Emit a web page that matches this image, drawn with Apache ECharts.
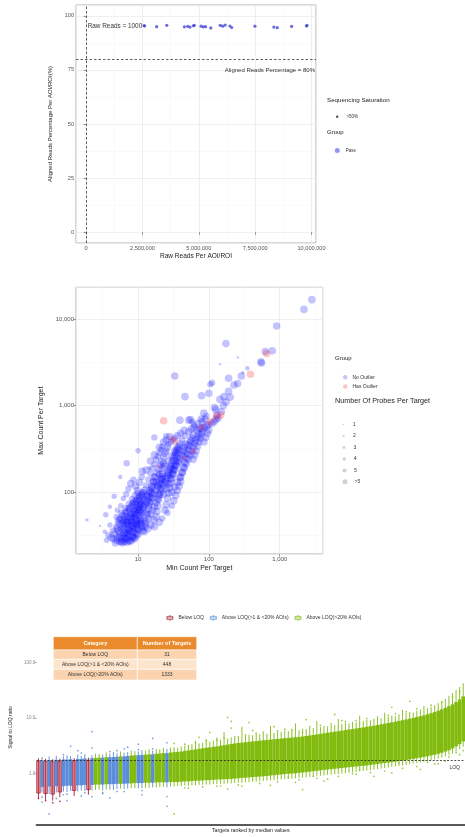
<!DOCTYPE html>
<html>
<head>
<meta charset="utf-8">
<script src="https://cdn.jsdelivr.net/npm/echarts@6/dist/echarts.min.js"></script>
<style>
  html, body { margin: 0; padding: 0; background: #ffffff; }
  #c { width: 465px; height: 837px; }
</style>
</head>
<body>
<div id="c"></div>
<script>
const FONT = '"Liberation Sans", Arial, Helvetica, sans-serif';

// ---- Panel 1: sequencing QC per AOI/ROI ----
const rawReads = [2570000, 2600000, 3130000, 3580000, 4360000, 4510000, 4610000, 4760000, 4800000,
  5100000, 5200000, 5300000, 5530000, 5950000, 6060000, 6170000, 6380000, 6460000, 7490000,
  8330000, 8480000, 9120000, 9780000, 9800000];
const alignedPct = [95.5, 95.3, 95.0, 95.6, 94.9, 95.1, 94.8, 95.4, 95.6, 95.2, 94.9, 95.0, 94.4,
  95.6, 95.2, 95.7, 95.3, 94.6, 95.2, 94.8, 94.5, 95.1, 95.3, 95.6];
const rawReadsCutoff = 1000;
const alignedCutoff = 80;

// ---- Panel 2: min vs max probe count per target ([min, max, probes]) ----
const noOutlierPoints = [
  [4.2,30,6],[4.6,33,6],[5.0,28,6],[5.3,36,6],[5.6,31,6],[5.9,27,6],[6.1,40,6],[6.4,34,6],[6.7,29,6],[6.9,45,6],
  [7.2,38,6],[7.5,32,6],[7.7,27,6],[8.0,50,6],[8.2,42,6],[8.5,35,6],[8.8,30,6],[9.1,56,6],[9.4,46,6],[9.7,38,6],
  [10.0,33,6],[10.4,62,6],[10.8,50,6],[11.2,41,6],[11.6,36,6],[12.0,70,6],
  [4.4,36,5],[4.9,40,5],[5.2,45,5],[5.5,50,5],[5.8,38,5],[6.0,55,5],[6.3,47,5],[6.6,60,5],[6.9,52,5],[7.1,42,5],
  [7.4,66,5],[7.8,57,5],[8.1,46,5],[8.4,75,5],[8.7,62,5],[9.0,52,5],[9.3,82,5],[9.6,68,5],[9.9,44,5],[10.3,90,5],
  [10.7,74,5],[11.1,58,5],[11.5,100,5],[11.9,80,5],
  [3.8,32,5],[3.6,28,4],[4.0,42,4],[5.1,62,4],[5.7,70,4],[6.2,85,4],[6.8,95,5],[7.3,110,5],[7.9,126,6],[8.6,140,5],
  [9.2,118,6],[9.8,105,6],[10.5,130,6],[11.3,150,5],[6.5,30,6],[7.0,34,6],[7.6,37,6],[8.3,39,6],[8.9,41,6],[9.5,43,6],
  [10.2,46,6],[10.9,48,6],[6.0,26,6],[7.0,26.5,6],[8.0,28,6],[9.0,29,6],[5.4,48,6],[6.1,44,6],[6.8,48,6],[7.5,52,6],
  [8.2,56,6],[8.9,60,6],[9.6,64,6],[10.3,68,6],[11.0,72,6],[5.0,52,5],[5.8,58,5],[6.6,66,5],[7.4,74,5],[8.2,84,5],
  [9.0,92,5],[9.8,98,5],
  [5.2,30,6],[5.5,34,6],[5.8,29,6],[6.2,32,6],[6.5,37,6],[6.8,33,6],[7.1,30,6],[7.4,36,6],[7.7,41,6],[8.0,35,6],
  [8.3,31,6],[8.6,44,6],[8.9,38,6],[9.2,34,6],[9.5,49,6],[9.8,41,6],[10.1,37,6],[10.5,54,6],[10.9,44,6],[11.3,39,6],
  [11.7,59,6],[12.1,48,6],[12.5,43,6],
  [6.0,48,6],[6.4,52,6],[6.8,56,6],[7.2,60,6],[7.6,64,6],[8.0,68,6],[8.4,72,6],[8.8,77,6],[9.2,72,6],[9.6,78,6],
  [10.0,84,6],[10.4,80,6],[10.8,88,6],[11.2,94,6],[11.6,90,6],[12.0,98,6],[12.4,106,6],
  [7.0,44,6],[7.8,47,6],[8.6,50,6],[9.4,55,6],[10.2,58,6],[11.0,63,6],[11.8,67,6],[12.6,73,6],[13.4,78,6],[14.2,84,6],
  [6.3,41,5],[7.3,45,5],[8.3,52,5],[9.3,60,5],[10.3,66,5],[11.3,76,5],[12.3,84,5],[13.3,92,5],[14.3,100,5],[15.3,110,5],
  [4.8,26,6],[5.5,27,6],[6.4,27,6],[7.3,28,6],[8.4,30,6],[9.6,32,6],[4.5,29,6],[5.1,38,6],[5.6,43,6],
  [1.9,48,2],[2.9,41,1],[3.4,35,3],[3.5,55,4],[4.0,68,3],[6.9,216,5],[5.6,150,3],[4.6,90,4],
  [12.5,40,6],[13,46,6],[13.5,55,6],[14,64,6],[14.5,75,6],[15,88,6],[15.5,100,6],[16,115,6],[16.5,130,6],[17,150,6],
  [13,120,5],[14,140,5],[15,165,5],[16,190,5],[17,210,5],[12.2,35,6],[13.8,38,6],[15.2,42,6],[16.8,48,6],[18,52,6],
  [18.5,60,6],[19,70,6],[19.5,82,6],[20,95,6],[20.5,110,6],[21,125,6],[21.5,145,6],[22,165,6],[22.5,190,6],[23,215,6],
  [18,240,5],[19,260,5],[20,285,5],[21,310,5],[22,335,5],[23,255,6],[24,280,6],[25,300,6],[26,330,6],[24,62,6],
  [25,72,6],[26,85,6],[27,98,6],[28,112,6],[29,128,6],[30,146,6],[31,165,6],[32,185,6],[33,205,6],[34,230,6],
  [35,255,6],[36,280,6],[37,310,6],[38,340,6],[27,360,5],[29,380,5],[31,400,5],[33,420,5],[30,70,5],[32,80,6],
  [34,92,6],[36,105,6],[38,118,6],[40,132,6],[26,58,5],[22,50,5],[20,45,6],[17,40,6],[25,400,6],[28,440,6],
  [23,380,6],[20,330,6],[17,270,6],[15,230,6],[13,180,6],[11.5,175,6],[18,130,6],[20,160,6],[24,200,6],[27,230,6],
  [30,260,6],[33,300,6],[36,330,6],[39,360,6],[16,95,6],[19,120,6],[22,140,6],[26,165,6],[29,190,6],[25,130,6],
  [28,155,6],[31,180,6],[34,210,6],
  [13,58,6],[14,70,6],[15,78,6],[16,86,6],[17,96,6],[18,106,6],[19,116,6],[20,128,6],[21,140,6],[22,152,6],
  [13.5,90,6],[14.5,104,6],[15.5,118,6],[16.5,134,6],[17.5,150,6],[18.5,168,6],[19.5,186,6],[20.5,206,6],[21.5,226,6],
  [14,50,6],[15,56,6],[16,62,6],[17,68,6],[18,76,6],[19,84,6],[20,92,6],[21,100,6],[22,110,6],[23,120,6],
  [24,132,6],[25,144,6],[26,156,6],[27,170,6],[28,184,6],[29,200,6],[30,216,6],[31,232,6],[32,250,6],[33,268,6],
  [34,288,6],[35,308,6],
  [23,95,6],[25,110,6],[27,125,6],[29,142,6],[31,160,6],[33,180,6],[35,200,6],[37,222,6],[39,246,6],[41,272,6],
  [43,300,6],[45,330,6],[47,360,6],
  [30,100,6],[33,115,6],[36,130,6],[39,148,6],[42,168,6],[45,190,6],[48,214,6],[51,240,6],[54,268,6],[57,298,6],
  [60,330,6],[63,365,6],[66,400,6],[69,435,6],[72,470,6],
  [40,150,6],[42,170,6],[44,195,6],[46,220,6],[48,250,6],[50,280,6],[52,310,6],[54,345,6],[56,380,6],[58,420,6],
  [60,460,6],[45,300,6],[50,350,6],[55,400,6],[60,240,6],[63,270,6],[66,300,6],[69,340,6],[72,380,6],[75,420,6],
  [78,460,6],[81,500,6],[42,400,5],[46,450,5],[52,500,6],[57,540,6],[62,560,6],[68,520,6],[74,550,6],[80,540,6],
  [86,560,6],[92,580,6],[98,600,6],[85,380,6],[90,430,6],[95,480,6],[100,520,6],[110,620,6],[118,650,6],[126,690,6],
  [135,720,6],[62,600,5],[58,650,5],[55,690,6],[45,520,6],[40,480,6],[36,450,6],[38,230,6],[44,260,6],[70,620,6],
  [80,650,6],[88,700,6],
  [10,302,4],[14.5,190,3],[17,430,5],[25,445,5],[39,680,6],[52,680,6],[33,2200,6],[46,1270,6],[79,1300,6],[100,1390,6],
  [105,1760,5],[111,1840,5],[143,1180,6],[163,1270,6],[190,1460,6],[190,2070,6],[226,1730,6],[255,1800,6],[287,2200,6],
  [174,5200,6],[257,3600,1],[144,3010,1],[544,3200,6],[554,3100,6],[626,4200,6],[785,4300,6],[905,8300,6],
  [2200,12900,6],[2850,16700,6],[125,900,6],[130,780,6],[150,850,6],[160,1000,6],[175,1100,6],[200,1250,6],
  [85,820,6],[92,760,5],[120,950,6],[78,700,6],[300,2400,2],[350,2700,3]
];
const hasOutlierPoints = [
  [23,670,6],[33,385,5],[30,420,4],[79,565,5],[104,650,6],[128,750,6],[147,780,6],[386,2300,6],[655,4000,6],
  [60,300,4],[45,250,3],[20,200,2]
];
const probeLevels = ['1', '2', '3', '4', '5', '>5'];
const probeSymbolSize = [0, 2.4, 3.4, 4.4, 5.4, 6.4, 7.6];

// ---- Panel 3: signal-to-LOQ ratio per target, ranked by median ----
const groupNames = ['Below LOQ', 'Above LOQ(>1 & <20% AOIs)', 'Above LOQ(>20% AOIs)'];
const groupTargetCounts = [31, 448, 1333];
const loqRatio = 1.78;
// 0 = below LOQ, 1 = above LOQ in <20% AOIs, 2 = above LOQ in >20% AOIs
const targetGroup = [
  0,1,0,1,0,1,0,1,1,1, 0,1,1,1,0,1,2,2,1,2, 1,1,1,2,1,1,2,2,1,1, 2,2,1,2,2,2,1,2,2,2,
  2,2,2,2,2,2,2,2,2,2, 2,2,2,2,2,2,2,2,2,2, 2,2,2,2,2,2,2,2,2,2, 2,2,2,2,2,2,2,2,2,2,
  2,2,2,2,2,2,2,2,2,2, 2,2,2,2,2,2,2,2,2,2, 2,2,2,2,2,2,2,2,2,2, 2,2,2,2,2,2,2,2,2,2
];
// [lower whisker, Q1, median, Q3, upper whisker]
const targetStats = [
  [0.36,0.45,0.85,1.7,1.9],[0.46,0.58,0.95,1.72,2.0],[0.34,0.44,0.88,1.68,1.85],[0.47,0.59,0.96,1.76,2.05],
  [0.33,0.43,0.9,1.65,1.82],[0.46,0.6,0.97,1.78,2.1],[0.38,0.47,0.92,1.7,1.88],[0.48,0.6,0.98,1.8,2.05],
  [0.47,0.61,0.99,1.79,2.15],[0.49,0.61,1.0,1.82,2.08],[0.4,0.5,0.95,1.72,1.9],[0.48,0.62,1.01,1.84,2.2],
  [0.5,0.62,1.02,1.85,2.1],[0.49,0.63,1.03,1.88,2.25],[0.42,0.52,0.98,1.75,1.95],[0.5,0.63,1.04,1.9,2.15],
  [0.51,0.64,1.05,1.92,2.3],[0.52,0.64,1.06,1.95,2.25],[0.5,0.64,1.06,1.94,2.2],[0.52,0.65,1.07,1.98,2.4],
  [0.52,0.65,1.08,1.98,2.3],[0.51,0.65,1.09,2.0,2.45],[0.53,0.66,1.1,2.02,2.35],[0.54,0.66,1.11,2.05,2.5],
  [0.53,0.66,1.12,2.05,2.4],[0.54,0.67,1.13,2.08,2.45],[0.55,0.67,1.14,2.12,2.6],[0.55,0.68,1.15,2.14,2.55],
  [0.55,0.68,1.16,2.15,2.5],[0.55,0.68,1.17,2.18,2.65],[0.56,0.69,1.18,2.2,2.6],[0.56,0.69,1.19,2.22,2.75],
  [0.57,0.69,1.2,2.24,2.6],[0.57,0.7,1.22,2.28,2.8],[0.58,0.7,1.23,2.3,2.75],[0.58,0.7,1.25,2.34,2.9],
  [0.57,0.7,1.26,2.34,2.8],[0.59,0.71,1.28,2.4,2.95],[0.59,0.71,1.3,2.44,3.0],[0.6,0.71,1.31,2.47,2.95],
  [0.6,0.72,1.33,2.5,3.1],[0.61,0.73,1.35,2.56,3.2],[0.61,0.73,1.37,2.62,3.3],[0.62,0.74,1.4,2.68,3.4],
  [0.62,0.75,1.42,2.74,3.9],[0.63,0.75,1.45,2.8,3.5],[0.63,0.76,1.47,2.86,3.6],[0.64,0.77,1.5,2.92,4.2],
  [0.64,0.77,1.53,2.98,3.8],[0.65,0.78,1.56,3.04,3.9],[0.65,0.79,1.59,3.1,4.5],[0.66,0.79,1.62,3.18,4.1],
  [0.66,0.8,1.65,3.26,5.6],[0.67,0.8,1.68,3.34,4.3],[0.67,0.81,1.72,3.42,4.5],[0.68,0.82,1.75,3.5,4.4],
  [0.69,0.83,1.78,3.56,4.8],[0.69,0.84,1.81,3.62,7.0],[0.7,0.85,1.84,3.68,4.8],[0.71,0.86,1.87,3.74,5.0],
  [0.72,0.87,1.9,3.8,4.9],[0.72,0.88,1.93,3.86,5.2],[0.73,0.89,1.96,3.92,5.1],[0.74,0.9,1.99,3.98,5.4],
  [0.75,0.91,2.02,4.04,5.2],[0.76,0.93,2.05,4.1,7.2],[0.77,0.94,2.08,4.16,5.4],[0.78,0.96,2.11,4.22,5.7],
  [0.79,0.97,2.14,4.28,5.6],[0.8,0.99,2.17,4.34,5.9],[0.81,1.0,2.2,4.4,5.8],[0.82,1.01,2.23,4.46,6.1],
  [0.83,1.02,2.26,4.52,8.0],[0.84,1.04,2.3,4.58,6.1],[0.85,1.05,2.34,4.66,6.4],[0.86,1.07,2.38,4.76,6.3],
  [0.88,1.09,2.42,4.86,6.7],[0.89,1.11,2.46,4.96,6.6],[0.9,1.13,2.5,5.08,8.8],[0.92,1.15,2.55,5.2,6.9],
  [0.93,1.17,2.6,5.32,7.2],[0.95,1.19,2.65,5.44,7.1],[0.96,1.21,2.7,5.56,7.6],[0.98,1.23,2.75,5.68,7.4],
  [0.99,1.25,2.8,5.8,9.6],[1.01,1.27,2.86,5.94,7.8],[1.02,1.29,2.92,6.08,8.2],[1.04,1.31,2.98,6.22,8.0],
  [1.06,1.33,3.04,6.36,8.5],[1.08,1.35,3.1,6.5,8.4],[1.1,1.37,3.17,6.64,11.0],[1.12,1.39,3.24,6.8,8.9],
  [1.14,1.41,3.31,6.96,9.3],[1.16,1.44,3.38,7.12,9.1],[1.18,1.47,3.46,7.3,9.7],[1.21,1.5,3.54,7.5,10.0],
  [1.24,1.53,3.62,7.7,9.9],[1.26,1.56,3.71,7.92,12.5],[1.29,1.59,3.8,8.14,10.5],[1.32,1.62,3.9,8.38,11.0],
  [1.35,1.65,4.0,8.62,10.8],[1.38,1.69,4.11,8.88,11.6],[1.41,1.73,4.22,9.14,14.0],[1.44,1.77,4.34,9.42,12.2],
  [1.48,1.81,4.47,9.72,12.8],[1.52,1.85,4.61,10.0,12.6],[1.56,1.9,4.76,10.4,13.5],[1.6,1.95,4.92,10.8,14.2],
  [1.64,2.0,5.1,11.2,16.5],[1.69,2.06,5.3,11.7,15.0],[1.74,2.13,5.52,12.2,16.0],[1.8,2.2,5.77,12.8,17.0],
  [1.87,2.28,6.05,13.5,18.5],[1.95,2.38,6.37,14.3,20.0],[2.05,2.5,6.74,15.2,22.0],[2.17,2.65,7.18,16.3,25.0],
  [2.3,2.85,7.72,17.6,28.0],[2.5,3.1,8.4,19.3,32.0],[2.75,3.4,9.3,21.5,36.0],[3.05,3.8,10.6,24.5,42.0]
];
// [target rank, ratio, group]
const outlierPoints = [
  [0,0.36,0],[2,0.33,0],[4,0.3,0],[6,0.32,0],
  [1,0.38,1],[1,0.31,1],[3,0.19,1],[3,0.45,1],[5,0.36,1],[7,0.42,1],[8,0.33,1],[9,3.1,1],[11,2.6,1],[12,0.4,1],
  [13,0.46,1],[15,5.7,1],[15,0.39,1],[15,2.9,1],[18,0.44,1],[20,0.37,1],[22,0.48,1],[24,2.8,1],[25,3.0,1],
  [28,3.4,1],[29,0.42,1],[32,4.3,1],[36,3.6,1],[36,0.26,1],[36,0.39,1],
  [7,2.2,1],[12,2.35,1],[20,2.5,1],[22,2.6,1],[28,2.7,1],[32,2.8,1],[8,0.43,1],[18,0.46,1],[24,0.48,1],[29,0.5,1],
  [38,0.19,2],[38,3.5,2],[42,0.55,2],[48,5.5,2],[53,0.53,2],[53,10.3,2],[54,8.7,2],[54,6.6,2],[57,0.6,2],
  [59,8.3,2],[60,0.79,2],[65,0.62,2],[72,0.7,2],[74,5.5,2],[74,0.52,2],[75,9.4,2],[77,0.9,2],[80,0.74,2],
  [83,11.6,2],[81,0.8,2],[90,1.2,2],[94,0.9,2],[99,15.6,2],[99,1.04,2],[101,1.57,2],[104,20,2],[107,1.2,2],
  [109,1.6,2],[112,1.5,2],[115,2.0,2],[117,2.4,2],[60,6.0,2],[66,7.0,2],[85,9.0,2],[70,0.85,2],[88,1.0,2],
  [45,4.5,2],[50,0.6,2],
  [41,3.4,2],[44,3.6,2],[47,3.9,2],[50,4.0,2],[52,4.4,2],[55,4.6,2],[58,5.0,2],[61,5.3,2],[63,5.6,2],[67,5.9,2],
  [69,6.3,2],[71,6.2,2],[76,7.0,2],[79,7.4,2],[82,7.9,2],[86,8.6,2],[89,9.0,2],[92,9.8,2],[95,10.4,2],[98,11.2,2],
  [100,12.0,2],[103,13.0,2],[106,14.6,2],[110,17.0,2],[113,19.5,2],[116,24,2],[118,30,2],
  [41,0.56,2],[46,0.58,2],[51,0.6,2],[56,0.63,2],[62,0.67,2],[67,0.72,2],[73,0.78,2],[78,0.83,2],[84,0.9,2],
  [89,0.98,2],[93,1.05,2],[97,1.12,2],[102,1.25,2],[106,1.35,2],[111,1.5,2],[114,1.7,2],[118,2.2,2],[119,2.6,2]
];

const groupFill = ['rgba(196,52,74,0.5)', '#5b8ddb', '#80bb0e'];
const groupLine = ['#a51d2d', '#5b8ddb', '#80bb0e'];
const groupDot = ['#b2182b', '#5b8fdc', '#86bf1a'];

const log10 = Math.log10;
const thousands = v => Math.round(v).toLocaleString('en-US');

const chart = echarts.init(document.getElementById('c'), null, { renderer: 'canvas', width: 465, height: 837 });

const gridLine = { lineStyle: { color: '#ebebeb', width: 0.8 } };
const minorLine = { show: true, lineStyle: { color: '#f5f5f5', width: 0.5 } };
const tickStyle = { show: true, length: 2.5, lineStyle: { color: '#555', width: 0.6 } };

const boxPath = 'path://M4,0V2M4,6V8M0,2H8V6H0ZM0,4H8';

// size-key legends for probes per target, one component per circle size
const probeLegendRows = [420, 431.5, 443, 454.5, 466, 477.3];
const probeLegends = probeLevels.map((name, k) => {
  const d = probeSymbolSize[k + 1] * 0.66;
  return {
    left: 337.5, top: probeLegendRows[k] - 3, orient: 'vertical', selectedMode: false,
    itemWidth: 5, itemHeight: d, icon: 'circle',
    data: [name],
    textStyle: { fontSize: 5, color: '#333', fontFamily: FONT, padding: [0, 0, 0, 2] }
  };
});

// one box + whisker per ranked target, drawn through the panel-3 axes
function renderTarget(params, api) {
  const i = api.value(0);
  const g = api.value(6);
  const lo = api.coord([i, api.value(1)]);
  const q1 = api.coord([i, api.value(2)]);
  const q3 = api.coord([i, api.value(4)]);
  const hi = api.coord([i, api.value(5)]);
  const w = api.size([1, 0])[0];
  return {
    type: 'group',
    children: [
      { type: 'line', shape: { x1: lo[0], y1: lo[1], x2: hi[0], y2: hi[1] },
        style: { stroke: groupLine[g], lineWidth: 0.9 } },
      { type: 'rect', shape: { x: q1[0] - w / 2, y: q3[1], width: w, height: q1[1] - q3[1] },
        style: { fill: groupFill[g], stroke: g === 0 ? groupLine[g] : null, lineWidth: 0.7 } }
    ]
  };
}

const option = {
  animation: false,
  backgroundColor: '#ffffff',
  textStyle: { fontFamily: FONT },
  title: [
    { text: 'Sequencing Saturation', left: 327, top: 97.5, padding: 0,
      textStyle: { fontSize: 6.2, fontWeight: 'normal', color: '#222', fontFamily: FONT } },
    { text: 'Group', left: 327, top: 129.5, padding: 0,
      textStyle: { fontSize: 6, fontWeight: 'normal', color: '#222', fontFamily: FONT } },
    { text: 'Group', left: 335, top: 355.5, padding: 0,
      textStyle: { fontSize: 6, fontWeight: 'normal', color: '#222', fontFamily: FONT } },
    { text: 'Number Of Probes Per Target', left: 335, top: 397.5, padding: 0,
      textStyle: { fontSize: 7.2, fontWeight: 'normal', color: '#222', fontFamily: FONT } }
  ],
  legend: [
    { left: 331, top: 109.3, selectedMode: false, itemWidth: 2.4, itemHeight: 2.4, icon: 'circle',
      data: ['>50%'], textStyle: { fontSize: 4.5, color: '#333', fontFamily: FONT, padding: [0, 0, 0, 3] } },
    { left: 329.8, top: 143, selectedMode: false, itemWidth: 5, itemHeight: 5, icon: 'circle',
      data: [{ name: 'Pass', itemStyle: { color: '#7b7bf2' } }],
      textStyle: { fontSize: 4.5, color: '#333', fontFamily: FONT, padding: [0, 0, 0, 1] } },
    { left: 338, top: 369.7, orient: 'vertical', selectedMode: false, itemWidth: 4.5, itemHeight: 4.5,
      itemGap: 4.3, icon: 'circle',
      data: [{ name: 'No Outlier', itemStyle: { color: '#b7b7f7' } },
             { name: 'Has Outlier', itemStyle: { color: '#f7b7b7' } }],
      textStyle: { fontSize: 5, color: '#333', fontFamily: FONT } },
    ...probeLegends,
    { left: 161.5, top: 609.5, selectedMode: false, itemWidth: 7, itemHeight: 6, itemGap: 6,
      data: groupNames.map((name, g) => ({
        name, icon: boxPath,
        itemStyle: { color: '#ffffff', borderColor: groupLine[g], borderWidth: 0.8 }
      })),
      textStyle: { fontSize: 5, color: '#333', fontFamily: FONT } }
  ],
  grid: [
    { left: 76, top: 5, width: 240, height: 238, show: true, borderColor: '#b0b0b0', borderWidth: 1 },
    { left: 76, top: 287.3, width: 246.7, height: 266.7, show: true, borderColor: '#b0b0b0', borderWidth: 1 },
    { left: 32, top: 630, width: 442, height: 195 }
  ],
  xAxis: [
    { type: 'value', gridIndex: 0, min: -450000, max: 10200000, minInterval: 2500000, maxInterval: 2500000,
      axisLine: { show: false }, axisTick: tickStyle,
      axisLabel: { fontSize: 5.6, color: '#555', margin: 2, showMinLabel: false, showMaxLabel: false,
        formatter: v => thousands(v) },
      splitLine: gridLine, minorTick: { show: false, splitNumber: 2 }, minorSplitLine: minorLine,
      name: 'Raw Reads Per AOI/ROI', nameLocation: 'middle', nameGap: 9.5,
      nameTextStyle: { fontSize: 6.5, color: '#222', fontFamily: FONT } },
    { type: 'value', gridIndex: 1, min: log10(1.33), max: log10(4050), minInterval: 1, maxInterval: 1,
      axisLine: { show: false }, axisTick: tickStyle,
      axisLabel: { fontSize: 6, color: '#555', margin: 2, showMinLabel: false, showMaxLabel: false,
        formatter: v => thousands(Math.pow(10, v)) },
      splitLine: gridLine, minorTick: { show: false, splitNumber: 2 }, minorSplitLine: minorLine,
      name: 'Min Count Per Target', nameLocation: 'middle', nameGap: 10.5,
      nameTextStyle: { fontSize: 7, color: '#222', fontFamily: FONT } },
    { type: 'category', gridIndex: 2, boundaryGap: true,
      data: targetStats.map((_, i) => 'Target ' + (i + 1)),
      axisLine: { show: true, onZero: false, lineStyle: { color: '#5a5a5a', width: 2.2 } },
      axisTick: { show: false }, axisLabel: { show: false }, splitLine: { show: false },
      name: 'Targets ranked by median values', nameLocation: 'middle', nameGap: 3,
      nameTextStyle: { fontSize: 5.3, color: '#222', fontFamily: FONT } }
  ],
  yAxis: [
    { type: 'value', gridIndex: 0, min: -5, max: 105, minInterval: 25, maxInterval: 25,
      axisLine: { show: false }, axisTick: tickStyle,
      axisLabel: { fontSize: 5.6, color: '#555', margin: 2, showMinLabel: false, showMaxLabel: false },
      splitLine: gridLine, minorTick: { show: false, splitNumber: 2 }, minorSplitLine: minorLine,
      name: 'Aligned Reads Percentage Per AOI/ROI(%)', nameLocation: 'middle', nameGap: 14,
      nameTextStyle: { fontSize: 6, color: '#222', fontFamily: FONT } },
    { type: 'value', gridIndex: 1, min: log10(19.4), max: log10(23200), minInterval: 1, maxInterval: 1,
      axisLine: { show: false }, axisTick: tickStyle,
      axisLabel: { fontSize: 6, color: '#555', margin: 2, showMinLabel: false, showMaxLabel: false,
        formatter: v => thousands(Math.pow(10, v)) },
      splitLine: gridLine, minorTick: { show: false, splitNumber: 2 }, minorSplitLine: minorLine,
      name: 'Max Count Per Target', nameLocation: 'middle', nameGap: 23.5,
      nameTextStyle: { fontSize: 7, color: '#222', fontFamily: FONT } },
    { type: 'value', gridIndex: 2, min: -0.92, max: 2.58, minInterval: 1, maxInterval: 1,
      axisLine: { show: false },
      axisTick: { show: true, length: 2, lineStyle: { color: '#777', width: 0.6 } },
      axisLabel: { fontSize: 4.5, color: '#888', margin: 1.5, showMinLabel: false, showMaxLabel: false,
        formatter: v => Math.pow(10, v).toFixed(1) },
      splitLine: { show: false },
      name: 'Signal to LOQ ratio', nameLocation: 'middle', nameGap: 15.5,
      nameTextStyle: { fontSize: 5, color: '#222', fontFamily: FONT } }
  ],
  series: [
    {
      name: 'Pass', type: 'scatter', xAxisIndex: 0, yAxisIndex: 0,
      symbolSize: 3.2, itemStyle: { color: '#4646d6' },
      data: rawReads.map((r, i) => [r, alignedPct[i]]),
      markLine: {
        silent: true, symbol: 'none',
        lineStyle: { type: [2.5, 2], color: '#333', width: 0.8 },
        data: [
          { yAxis: alignedCutoff,
            label: { show: true, position: 'insideEndBottom', distance: [1, 8],
              formatter: 'Aligned Reads Percentage = ' + alignedCutoff + '%',
              fontSize: 6, color: '#333', fontFamily: FONT } },
          { xAxis: rawReadsCutoff, label: { show: false } }
        ]
      },
      markPoint: {
        silent: true,
        data: [{ coord: [rawReadsCutoff, 95.2], symbol: 'circle', symbolSize: 0,
          label: { show: true, position: 'right', distance: 1.5,
            formatter: 'Raw Reads = ' + rawReadsCutoff, fontSize: 6.4, color: '#333', fontFamily: FONT } }]
      }
    },
    { name: '>50%', type: 'scatter', xAxisIndex: 0, yAxisIndex: 0, itemStyle: { color: '#222' }, data: [] },
    {
      name: 'No Outlier', type: 'scatter', xAxisIndex: 1, yAxisIndex: 1,
      itemStyle: { color: 'rgba(10,10,255,0.3)' },
      symbolSize: v => probeSymbolSize[v[2]],
      data: noOutlierPoints.map(p => [log10(p[0]), log10(p[1]), p[2]])
    },
    {
      name: 'Has Outlier', type: 'scatter', xAxisIndex: 1, yAxisIndex: 1,
      itemStyle: { color: 'rgba(255,40,40,0.32)' },
      symbolSize: v => probeSymbolSize[v[2]],
      data: hasOutlierPoints.map(p => [log10(p[0]), log10(p[1]), p[2]])
    },
    ...probeLevels.map(name => ({
      name, type: 'scatter', xAxisIndex: 1, yAxisIndex: 1,
      itemStyle: { color: 'rgba(160,160,160,0.6)' }, data: []
    })),
    {
      name: 'targets', type: 'custom', xAxisIndex: 2, yAxisIndex: 2, silent: true,
      renderItem: renderTarget,
      encode: { x: 0, y: [1, 2, 3, 4, 5] },
      data: targetStats.map((s, i) => [i, ...s.map(log10), targetGroup[i]])
    },
    ...groupNames.map((name, g) => ({
      name, type: 'scatter', xAxisIndex: 2, yAxisIndex: 2,
      symbolSize: 1.7, itemStyle: { color: groupDot[g], opacity: 0.85 },
      data: outlierPoints.filter(p => p[2] === g).map(p => [p[0], log10(p[1])]),
      markLine: g === 2 ? {
        silent: true, symbol: 'none',
        lineStyle: { type: [2, 1.6], color: '#222', width: 0.8 },
        data: [{ yAxis: log10(loqRatio) }],
        label: { show: true, position: 'insideEndBottom', formatter: 'LOQ', fontSize: 5,
          color: '#333', fontFamily: FONT }
      } : undefined
    }))
  ]
};

// summary table drawn on top of panel 3
const tableX = [53.3, 137.3, 196.7];
const tableY = [636.7, 650, 659.3, 669.3, 680];
const rowFill = ['#fbd3ae', '#fde4cd', '#fbd3ae'];
const tableEls = [];
const headers = ['Category', 'Number of Targets'];
for (let c = 0; c < 2; c++) {
  tableEls.push({ type: 'rect', shape: { x: tableX[c], y: tableY[0], width: tableX[c + 1] - tableX[c], height: tableY[1] - tableY[0] },
    style: { fill: '#e98a2c', stroke: '#ffffff', lineWidth: 0.6 } });
  tableEls.push({ type: 'text', x: (tableX[c] + tableX[c + 1]) / 2, y: (tableY[0] + tableY[1]) / 2,
    style: { text: headers[c], fill: '#ffffff', font: 'bold 5.5px ' + FONT, align: 'center', verticalAlign: 'middle' } });
}
groupNames.forEach((name, r) => {
  const cells = [name, String(groupTargetCounts[r])];
  for (let c = 0; c < 2; c++) {
    tableEls.push({ type: 'rect', shape: { x: tableX[c], y: tableY[r + 1], width: tableX[c + 1] - tableX[c], height: tableY[r + 2] - tableY[r + 1] },
      style: { fill: rowFill[r], stroke: '#ffffff', lineWidth: 0.6 } });
    tableEls.push({ type: 'text', x: (tableX[c] + tableX[c + 1]) / 2, y: (tableY[r + 1] + tableY[r + 2]) / 2,
      style: { text: cells[c], fill: '#333333', font: '5px ' + FONT, align: 'center', verticalAlign: 'middle' } });
  }
});
option.graphic = [{ type: 'group', z: 100, silent: true, children: tableEls }];

chart.setOption(option);
</script>
</body>
</html>
